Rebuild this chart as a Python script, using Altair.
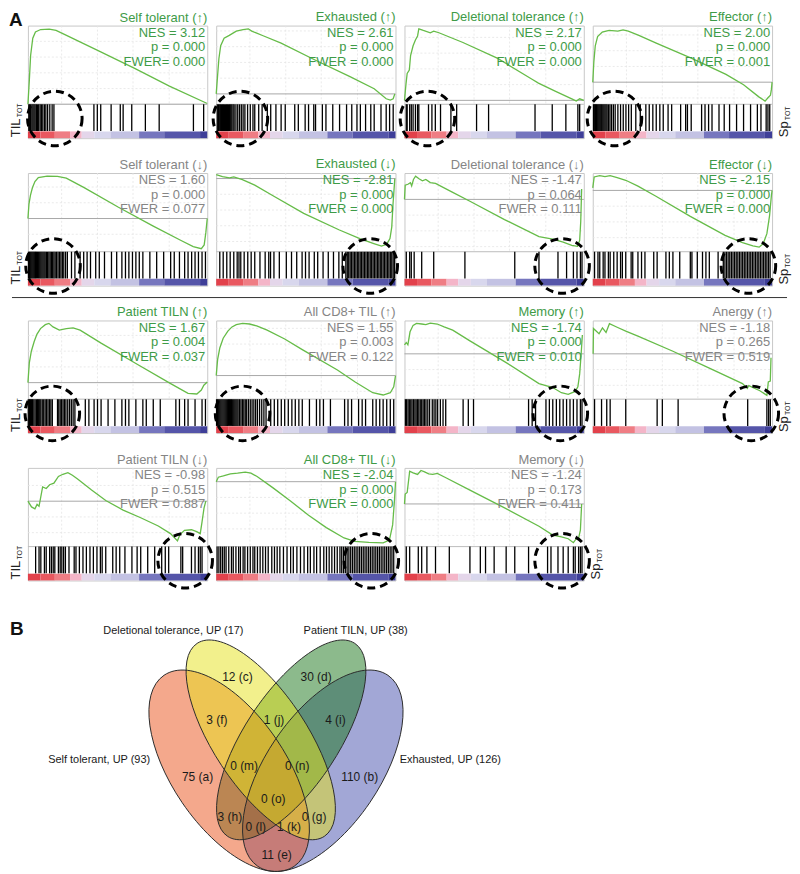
import altair as alt
import pandas as pd

FONT = "Liberation Sans"
GREEN_TXT = "#3e9b47"
GREY_TXT = "#858585"
CURVE_COL = "#66bc48"
W, HC, HB = 180, 79, 34
H = HC + HB

# ---------------- Panel A data ----------------
titles = ["Self tolerant (↑)", "Exhausted (↑)", "Deletional tolerance (↑)", "Effector (↑)",
          "Self tolerant (↓)", "Exhausted (↓)", "Deletional tolerance (↓)", "Effector (↓)",
          "Patient TILN (↑)", "All CD8+ TIL (↑)", "Memory (↑)", "Anergy (↑)",
          "Patient TILN (↓)", "All CD8+ TIL (↓)", "Memory (↓)"]
nes = ["3.12", "2.61", "2.17", "2.00", "1.60", "-2.81", "-1.47", "-2.15",
       "1.67", "1.55", "-1.74", "-1.18", "-0.98", "-2.04", "-1.24"]
pval = ["0.000", "0.000", "0.000", "0.000", "0.000", "0.000", "0.064", "0.000",
        "0.004", "0.003", "0.000", "0.265", "0.515", "0.000", "0.173"]
fwer = ["0.000", "0.000", "0.000", "0.001", "0.077", "0.000", "0.111", "0.000",
        "0.037", "0.122", "0.010", "0.519", "0.887", "0.000", "0.411"]
significant = [True, True, True, True, False, True, False, True,
               True, False, True, False, False, True, False]
# position of the zero line inside the curve area (0 = bottom, 1 = top)
zero_level = [0.0, 0.132, 0.05, 0.281, 0.422, 0.93, 0.665, 0.779,
              0.21, 0.30, 0.576, 0.576, 0.577, 0.825, 0.542]

curve_x = [
    [0, 8, 15, 27, 42, 71, 119, 157, 215, 406, 598, 789, 1000],
    [0, 8, 15, 25, 44, 73, 112, 150, 179, 198, 265, 362, 554, 746, 881, 948, 971, 987, 996],
    [0, 8, 15, 27, 34, 48, 61, 73, 80, 105, 144, 163, 192, 326, 517, 709, 747, 843, 939, 958, 977, 1000],
    [0, 6, 14, 27, 53, 91, 140, 169, 198, 257, 354, 549, 743, 841, 928, 961, 977, 991, 996, 1000],
    [0, 6, 14, 25, 39, 58, 107, 165, 214, 311, 505, 699, 854, 922, 967, 983, 992, 1000],
    [0, 35, 74, 98, 146, 215, 312, 488, 684, 801, 879, 922, 951, 969, 979, 986, 996],
    [0, 4, 19, 33, 40, 50, 62, 81, 100, 119, 144, 173, 269, 365, 558, 750, 827, 885, 933, 965, 977, 983, 988],
    [0, 8, 39, 68, 97, 136, 184, 252, 350, 544, 738, 835, 893, 928, 951, 971, 986, 996, 1000],
    [0, 8, 19, 35, 50, 70, 97, 117, 140, 175, 214, 252, 291, 408, 602, 796, 893, 942, 967, 981, 1000],
    [0, 8, 20, 39, 65, 88, 112, 147, 186, 226, 284, 382, 480, 676, 775, 873, 931, 971, 990, 1000],
    [0, 10, 19, 31, 48, 67, 96, 119, 144, 183, 221, 269, 365, 558, 750, 827, 875, 913, 952, 967, 977, 985, 992],
    [2, 4, 35, 54, 74, 93, 136, 184, 252, 447, 641, 835, 862, 870, 932, 971, 979, 990, 994],
    [0, 20, 39, 51, 62, 82, 102, 121, 145, 170, 195, 223, 248, 277, 355, 434, 531, 629, 727, 795, 834, 848,
     873, 912, 941, 961, 971, 982, 992],
    [0, 12, 40, 79, 119, 162, 194, 228, 317, 416, 515, 614, 713, 772, 851, 931, 966, 984, 994, 1000],
    [0, 4, 15, 29, 48, 73, 92, 112, 135, 158, 183, 231, 365, 558, 750, 827, 875, 913, 942, 958, 971, 981, 988],
]
curve_y = [
    [0.0, 0.31, 0.62, 0.84, 0.92, 0.95, 0.955, 0.94, 0.876, 0.667, 0.453, 0.231, 0.01],
    [0.132, 0.372, 0.579, 0.744, 0.839, 0.876, 0.93, 0.95, 0.959, 0.93, 0.868, 0.777, 0.56, 0.351, 0.198,
     0.07, 0.054, 0.07, 0.132],
    [0.05, 0.248, 0.393, 0.434, 0.62, 0.744, 0.818, 0.868, 0.959, 0.938, 0.909, 0.93, 0.909, 0.785, 0.587,
     0.322, 0.269, 0.165, 0.062, 0.041, 0.07, 0.05],
    [0.281, 0.537, 0.744, 0.86, 0.917, 0.938, 0.93, 0.946, 0.93, 0.876, 0.777, 0.587, 0.38, 0.248, 0.091,
     0.041, 0.083, 0.116, 0.186, 0.281],
    [0.422, 0.609, 0.717, 0.813, 0.891, 0.943, 0.961, 0.957, 0.935, 0.817, 0.565, 0.326, 0.143, 0.065,
     0.039, 0.087, 0.239, 0.422],
    [0.979, 0.954, 0.938, 0.95, 0.917, 0.846, 0.717, 0.488, 0.279, 0.167, 0.104, 0.071, 0.096, 0.167,
     0.313, 0.604, 0.929],
    [0.665, 0.845, 0.857, 0.878, 0.837, 0.918, 0.959, 0.927, 0.902, 0.918, 0.878, 0.869, 0.755, 0.641,
     0.408, 0.192, 0.159, 0.122, 0.082, 0.069, 0.143, 0.388, 0.796],
    [0.812, 0.95, 0.967, 0.954, 0.967, 0.942, 0.908, 0.833, 0.708, 0.45, 0.208, 0.117, 0.075, 0.058,
     0.104, 0.229, 0.458, 0.708, 0.779],
    [0.21, 0.465, 0.609, 0.733, 0.823, 0.897, 0.947, 0.963, 0.918, 0.877, 0.897, 0.905, 0.877, 0.712,
     0.453, 0.198, 0.074, 0.066, 0.115, 0.177, 0.218],
    [0.30, 0.506, 0.65, 0.774, 0.864, 0.918, 0.947, 0.963, 0.955, 0.93, 0.877, 0.765, 0.63, 0.37, 0.218,
     0.082, 0.053, 0.082, 0.156, 0.30],
    [0.691, 0.72, 0.691, 0.856, 0.938, 0.963, 0.955, 0.947, 0.967, 0.955, 0.918, 0.877, 0.741, 0.477,
     0.198, 0.148, 0.082, 0.062, 0.099, 0.156, 0.321, 0.568, 0.815],
    [0.576, 0.897, 0.831, 0.905, 0.848, 0.959, 0.914, 0.864, 0.802, 0.609, 0.403, 0.198, 0.136, 0.173,
     0.107, 0.049, 0.218, 0.23, 0.527],
    [0.577, 0.504, 0.48, 0.536, 0.512, 0.758, 0.738, 0.786, 0.806, 0.891, 0.919, 0.94, 0.907, 0.859,
     0.718, 0.585, 0.464, 0.367, 0.262, 0.165, 0.073, 0.153, 0.206, 0.214, 0.19, 0.165, 0.315, 0.488, 0.577],
    [0.825, 0.882, 0.899, 0.925, 0.934, 0.947, 0.934, 0.89, 0.746, 0.575, 0.399, 0.241, 0.11, 0.066,
     0.053, 0.048, 0.083, 0.276, 0.583, 0.825],
    [0.542, 0.667, 0.688, 0.958, 0.938, 0.917, 0.967, 0.95, 0.925, 0.917, 0.929, 0.875, 0.717, 0.492,
     0.258, 0.146, 0.125, 0.1, 0.05, 0.1, 0.108, 0.208, 0.542],
]

# gene-set hit ranks (per-mille of the ranked list)
hit_ranks = [
    [5, 10, 15, 22, 28, 34, 40, 47, 53, 60, 68, 75, 83, 92, 100, 110, 122, 135, 145,
     368, 387, 406, 464, 515, 531, 579, 655, 732, 923, 980],
    [6, 12, 17, 23, 29, 35, 40, 46, 52, 58, 63, 69, 75, 81, 87, 94, 100, 110, 120, 130, 140, 150, 160,
     175, 190, 205, 215, 237, 256, 285, 304, 333, 362, 385, 438, 458, 496, 515, 544, 554, 592, 612, 650,
     688, 727, 756, 785, 804, 833, 862, 881, 919, 948, 967, 987],
    [10, 15, 29, 38, 48, 61, 73, 80, 134, 153, 172, 201, 259, 291, 402, 469, 728, 824, 900, 967, 977],
    [4, 8, 12, 16, 20, 25, 30, 35, 40, 45, 50, 56, 62, 68, 74, 80, 88, 96, 105, 115, 125, 140, 155, 170,
     185, 200, 215, 240, 265, 296, 315, 335, 354, 374, 393, 420, 440, 490, 518, 528, 549, 607, 626, 646,
     665, 704, 733, 763, 802, 841, 880, 918, 938, 967, 977, 987],
    [3, 8, 13, 18, 23, 28, 33, 38, 43, 48, 54, 60, 66, 72, 78, 84, 90, 96, 103, 110, 117, 124, 131, 138,
     145, 152, 160, 168, 176, 184, 192, 200, 210, 220, 243, 262, 291, 311, 330, 349, 378, 398, 427, 466,
     495, 524, 544, 563, 583, 602, 621, 641, 680, 718, 757, 796, 816, 845, 874, 893, 913, 932, 951, 971, 990],
    [20, 39, 59, 78, 98, 117, 127, 137, 156, 176, 195, 215, 244, 273, 293, 303, 322, 352, 391, 420, 449,
     479, 498, 518, 547, 566, 596, 625, 654, 684, 703, 723, 731, 739, 747, 755, 763, 771, 779, 787, 795,
     803, 811, 819, 827, 835, 843, 851, 859, 867, 875, 883, 891, 899, 907, 915, 923, 931, 939, 947, 955,
     963, 971, 979, 987, 995],
    [10, 29, 38, 54, 96, 163, 337, 615, 750, 856, 904, 942, 962, 981, 990],
    [10, 29, 39, 58, 68, 87, 97, 117, 136, 155, 165, 184, 214, 223, 252, 272, 291, 340, 359, 408, 427,
     447, 485, 544, 553, 583, 612, 631, 650, 699, 728, 737, 746, 755, 764, 773, 782, 791, 800, 809, 818,
     827, 836, 845, 854, 863, 872, 881, 890, 899, 908, 917, 926, 935, 944, 953, 962, 971, 980, 989],
    [2, 8, 14, 20, 26, 33, 40, 47, 54, 60, 66, 72, 80, 88, 96, 104, 112, 120, 128, 136, 165, 172, 180,
     188, 196, 204, 212, 222, 232, 242, 252, 262, 320, 340, 369, 388, 408, 447, 485, 524, 544, 563, 602,
     641, 660, 699, 738, 825, 845, 874, 893, 932, 971, 990],
    [2, 8, 14, 20, 26, 32, 38, 44, 50, 56, 62, 68, 74, 80, 86, 92, 98, 104, 110, 116, 122, 130, 138,
     146, 154, 162, 170, 180, 190, 200, 210, 220, 230, 242, 254, 266, 278, 304, 324, 343, 363, 382, 402,
     422, 441, 461, 480, 520, 559, 578, 598, 637, 716, 735, 755, 794, 814, 833, 873, 892, 912, 931, 951,
     971, 990],
    [5, 12, 20, 27, 35, 42, 50, 58, 65, 73, 80, 88, 96, 104, 112, 120, 130, 140, 155, 165, 175, 185,
     200, 215, 230, 327, 356, 385, 692, 712, 731, 789, 808, 827, 847, 866, 885, 904, 923, 942, 962, 981, 990],
    [10, 49, 78, 97, 184, 359, 388, 476, 864, 971, 981, 990],
    [43, 62, 72, 92, 102, 121, 131, 141, 150, 170, 180, 189, 199, 209, 229, 258, 268, 287, 307, 326,
     346, 365, 385, 404, 414, 434, 473, 492, 512, 541, 580, 609, 629, 668, 707, 746, 766, 785, 853, 863,
     912, 932, 951, 961, 971],
    [5, 15, 25, 35, 45, 55, 70, 85, 95, 110, 125, 135, 150, 160, 175, 190, 205, 215, 230, 245, 260,
     275, 290, 310, 325, 340, 355, 375, 395, 415, 430, 450, 470, 490, 510, 525, 545, 560, 580, 600, 615,
     630, 645, 660, 675, 690, 700, 710, 720, 730, 740, 750, 760, 770, 780, 790, 800, 810, 820, 830, 840,
     850, 860, 870, 880, 890, 900, 910, 920, 930, 940, 950, 960, 970, 980, 990],
    [10, 29, 77, 96, 125, 173, 250, 365, 423, 452, 500, 567, 615, 692, 798, 817, 856, 885, 913, 942,
     952, 971, 981, 990],
]

circle_x = [150, 135, 128, 121, 140, 859, 879, 868, 136, 147, 869, 884, 877, 865, 879]

# ranked-list colour bar
cb_start = [0, 70, 150, 235, 300, 370, 460, 620, 760, 960]
cb_end = [70, 150, 235, 300, 370, 460, 620, 760, 960, 1000]
cb_color = ["#e2414b", "#e95860", "#ef7d84", "#f4b5c8", "#e4d6ea", "#d8d7ed", "#c3c2e3",
            "#7676be", "#5555a9", "#3e3e98"]

grid_x = [188, 388, 586, 788]
left_label_panels = [0, 4, 8, 12]
right_label_panels = [3, 7, 11, 14]

ONE = pd.DataFrame({"k": [0]})


def txt(text, **kw):
    return alt.Chart(ONE).mark_text(text=text, font=FONT, **kw)


def panel(i):
    xsc = alt.Scale(domain=[0, 1000], nice=False, zero=False)
    csc = alt.Scale(domain=[0, 1], range=[HC, 0], nice=False, zero=False)
    bsc = alt.Scale(domain=[0, 1], range=[H, HC], nice=False, zero=False)
    z = zero_level[i]
    levels = [round(z + 0.2 * k, 3) for k in range(-5, 6) if k != 0 and 0.03 < z + 0.2 * k < 0.97]
    tcol = GREEN_TXT if significant[i] else GREY_TXT

    layers = []
    layers.append(alt.Chart(pd.DataFrame({"g": grid_x})).mark_rule(
        color="#e4e4e4", strokeWidth=0.8, strokeDash=[2, 2]).encode(
        x=alt.X("g:Q", scale=xsc, axis=None), y=alt.value(0), y2=alt.value(HC)))
    if levels:
        layers.append(alt.Chart(pd.DataFrame({"g": levels})).mark_rule(
            color="#e4e4e4", strokeWidth=0.8, strokeDash=[2, 2]).encode(
            y=alt.Y("g:Q", scale=csc, axis=None), x=alt.value(0), x2=alt.value(W)))
    layers.append(alt.Chart(pd.DataFrame({"z": [z]})).mark_rule(
        color="#a8a8a8", strokeWidth=1).encode(
        y=alt.Y("z:Q", scale=csc, axis=None), x=alt.value(0), x2=alt.value(W)))
    layers.append(alt.Chart(pd.DataFrame({"x": curve_x[i], "y": curve_y[i]})).mark_line(
        color=CURVE_COL, strokeWidth=1.3).encode(
        x=alt.X("x:Q", scale=xsc, axis=None), y=alt.Y("y:Q", scale=csc, axis=None)))
    layers.append(alt.Chart(ONE).mark_rule(color="#bdbdbd", strokeWidth=1).encode(
        x=alt.value(0), x2=alt.value(W), y=alt.value(HC)))
    layers.append(alt.Chart(pd.DataFrame({"a": cb_start, "b": cb_end, "c": cb_color,
                                          "lo": [0.0] * 10, "hi": [0.2] * 10})).mark_rect().encode(
        x=alt.X("a:Q", scale=xsc, axis=None), x2="b:Q",
        y=alt.Y("lo:Q", scale=bsc, axis=None), y2="hi:Q",
        color=alt.Color("c:N", scale=None)))
    n = len(hit_ranks[i])
    layers.append(alt.Chart(pd.DataFrame({"h": hit_ranks[i], "lo": [0.21] * n, "hi": [1.0] * n})).mark_rule(
        color="#000000", strokeWidth=1.3).encode(
        x=alt.X("h:Q", scale=xsc, axis=None), y=alt.Y("lo:Q", scale=bsc, axis=None), y2="hi:Q"))
    layers.append(alt.Chart(pd.DataFrame({"cx": [circle_x[i]], "cy": [0.58]})).mark_point(
        shape="circle", filled=False, size=3000, color="black", strokeWidth=3,
        strokeDash=[8, 5], opacity=1).encode(
        x=alt.X("cx:Q", scale=xsc, axis=None), y=alt.Y("cy:Q", scale=bsc, axis=None)))
    fw = "FWER= " if i == 0 else "FWER = "
    for k, line in enumerate([f"NES = {nes[i]}", f"p = {pval[i]}", f"{fw}{fwer[i]}"]):
        layers.append(txt(line, align="right", baseline="middle", fontSize=13, color=tcol).encode(
            x=alt.value(W - 2), y=alt.value(7.5 + 14.5 * k)))
    if i in left_label_panels:
        layers.append(txt("TIL", angle=270, align="left", baseline="alphabetic", fontSize=13,
                          color="#222222").encode(x=alt.value(-8), y=alt.value(H - 1)))
        layers.append(txt("TOT", angle=270, align="left", baseline="alphabetic", fontSize=7,
                          color="#222222").encode(x=alt.value(-6), y=alt.value(H - 21)))
    if i in right_label_panels:
        layers.append(txt("Sp", angle=270, align="left", baseline="alphabetic", fontSize=13,
                          color="#222222").encode(x=alt.value(W + 16), y=alt.value(H - 1)))
        layers.append(txt("TOT", angle=270, align="left", baseline="alphabetic", fontSize=7,
                          color="#222222").encode(x=alt.value(W + 18), y=alt.value(H - 18)))
    title_dy = 0
    if i == 0:
        layers.append(txt("A", align="left", baseline="middle", fontSize=19, fontWeight="bold",
                          color="#111111").encode(x=alt.value(-19), y=alt.value(-6)))
        title_dy = 15
    if i == 4:
        # horizontal separator between the upper and lower halves of panel A
        layers.append(alt.Chart(ONE).mark_rule(color="#333333", strokeWidth=1).encode(
            x=alt.value(-16), x2=alt.value(762), y=alt.value(H + 12)))

    return alt.layer(*layers).resolve_scale(y="independent").properties(
        width=W, height=H,
        title=alt.TitleParams(titles[i], anchor="end", frame="group", fontSize=13, font=FONT,
                              fontWeight="normal", color=tcol, offset=1, dy=title_dy))


panels = [panel(i) for i in range(15)]
grid = alt.concat(*panels, columns=4, spacing={"row": 35, "column": 9}, bounds="flush")

# ---------------- Panel B data (Venn) ----------------
venn_sets = ["Exhausted, UP (126)", "Patient TILN, UP (38)", "Self tolerant, UP (93)",
             "Deletional tolerance, UP (17)"]
venn_cx = [324.0, 292.3, 230.0, 261.7]
venn_cy = [768.0, 737.0, 768.0, 737.0]
venn_semi_major = [116, 116, 116, 116]
venn_semi_minor = [57, 47, 57, 47]
venn_angle = [304.3, 303.4, 55.7, 56.6]
venn_fill = ["#4550ad", "#1a751a", "#e9511a", "#e5e119"]

set_label_x = [452, 357, 99.5, 174]
set_label_y = [757, 628, 757, 628]

region_text = ["12 (c)", "30 (d)", "3 (f)", "1 (j)", "4 (i)", "0 (m)", "0 (n)", "75 (a)", "110 (b)",
               "0 (o)", "3 (h)", "0 (g)", "0 (l)", "1 (k)", "11 (e)"]
region_x = [238.3, 317.3, 217.7, 275, 336.7, 245, 298.3, 198.3, 361, 274.3, 230.7, 315.3, 256.7, 290, 277.7]
region_y = [674, 674, 717, 717, 717, 763.3, 763.3, 774, 774, 796.7, 814, 814, 824.3, 824.3, 852.7]


def ellipse_path(r):
    k = 0.5523
    return (f"M 1 0 C 1 {r*k:.4f} {k:.4f} {r:.4f} 0 {r:.4f} "
            f"C {-k:.4f} {r:.4f} -1 {r*k:.4f} -1 0 "
            f"C -1 {-r*k:.4f} {-k:.4f} {-r:.4f} 0 {-r:.4f} "
            f"C {k:.4f} {-r:.4f} 1 {-r*k:.4f} 1 0 Z")


vdf = pd.DataFrame({
    "set": venn_sets, "cx": venn_cx, "cy": venn_cy,
    "size": [(2 * a) ** 2 for a in venn_semi_major],
    "path": [ellipse_path(b / a) for a, b in zip(venn_semi_major, venn_semi_minor)],
    "angle": venn_angle, "fill": venn_fill,
})
VX = alt.Scale(domain=[28, 528], nice=False, zero=False)
VY = alt.Scale(domain=[615, 871], reverse=True, nice=False, zero=False)

fills = alt.Chart(vdf).mark_point(filled=True, opacity=1, fillOpacity=0.5, strokeWidth=0).encode(
    x=alt.X("cx:Q", scale=VX, axis=None), y=alt.Y("cy:Q", scale=VY, axis=None),
    shape=alt.Shape("path:N", scale=None), size=alt.Size("size:Q", scale=None),
    angle=alt.Angle("angle:Q", scale=None), color=alt.Color("fill:N", scale=None))
outlines = alt.Chart(vdf).mark_point(filled=False, opacity=1, strokeWidth=0.9, color="#2b2b2b").encode(
    x=alt.X("cx:Q", scale=VX, axis=None), y=alt.Y("cy:Q", scale=VY, axis=None),
    shape=alt.Shape("path:N", scale=None), size=alt.Size("size:Q", scale=None),
    angle=alt.Angle("angle:Q", scale=None))
set_labels = alt.Chart(pd.DataFrame({"t": venn_sets, "x": set_label_x, "y": set_label_y})).mark_text(
    font=FONT, fontSize=11, color="#1a1a1a", align="center", baseline="middle").encode(
    x=alt.X("x:Q", scale=VX, axis=None), y=alt.Y("y:Q", scale=VY, axis=None), text="t:N")
region_labels = alt.Chart(pd.DataFrame({"t": region_text, "x": region_x, "y": region_y})).mark_text(
    font=FONT, fontSize=12, color="#1a1a1a", align="center", baseline="middle").encode(
    x=alt.X("x:Q", scale=VX, axis=None), y=alt.Y("y:Q", scale=VY, axis=None), text="t:N")
b_label = alt.Chart(pd.DataFrame({"t": ["B"], "x": [10], "y": [626]})).mark_text(
    font=FONT, fontSize=19, fontWeight="bold", color="#111111", align="left", baseline="middle").encode(
    x=alt.X("x:Q", scale=VX, axis=None), y=alt.Y("y:Q", scale=VY, axis=None), text="t:N")

venn = alt.layer(fills, outlines, set_labels, region_labels, b_label).properties(
    width=500, height=256, view=alt.ViewBackground(stroke="transparent"))

chart = alt.vconcat(grid, venn, spacing=22).properties(padding=0).configure(
    font=FONT).configure_view(stroke="#c8c8c8")

chart.save("out.html", embed_options={"renderer": "svg", "actions": False})
